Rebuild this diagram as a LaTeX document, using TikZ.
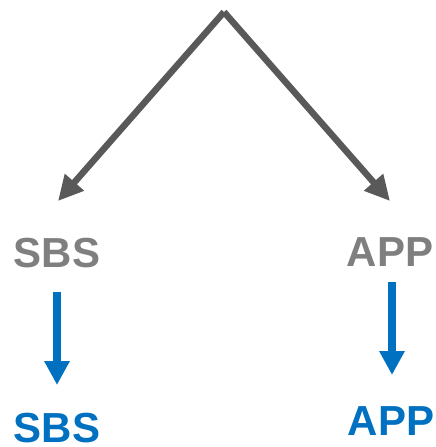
\documentclass[tikz,border=0pt]{standalone}
\usepackage{fontspec}
\setmainfont{Liberation Sans}
\usetikzlibrary{arrows.meta}
\definecolor{arrowgray}{HTML}{595959}
\definecolor{textgray}{HTML}{7F7F7F}
\definecolor{myblue}{HTML}{0070C0}
\tikzset{
  grayarrow/.style={draw=arrowgray, line width=6.5pt, -{Triangle[length=25pt,width=24pt]}},
  bluearrow/.style={draw=myblue, line width=8pt, -{Triangle[length=24pt,width=24pt]}},
  lbl/.style={anchor=base, inner sep=0pt, font=\fontsize{42}{42}\selectfont\bfseries},
}
\begin{document}
\begin{tikzpicture}[x=1pt,y=-1pt]
\useasboundingbox (0,0) rectangle (436,447);
\coordinate (apex) at (224,12);
\coordinate (lt) at (58,201);
\coordinate (rt) at (390,201);
\draw[grayarrow] (apex) -- (lt);
\draw[grayarrow] (apex) -- (rt);
\node[lbl, text=textgray] (sbs1) at (57,267) {SBS};
\node[lbl, text=textgray] (app1) at (390,266) {APP};
\node[lbl, text=myblue] (sbs2) at (57,442) {SBS};
\node[lbl, text=myblue] (app2) at (391,435) {APP};
\coordinate (ls) at (57,292);
\coordinate (le) at (57,385);
\coordinate (rs) at (392,282);
\coordinate (re) at (392,375);
\draw[bluearrow] (ls) -- (le);
\draw[bluearrow] (rs) -- (re);
\end{tikzpicture}
\end{document}
